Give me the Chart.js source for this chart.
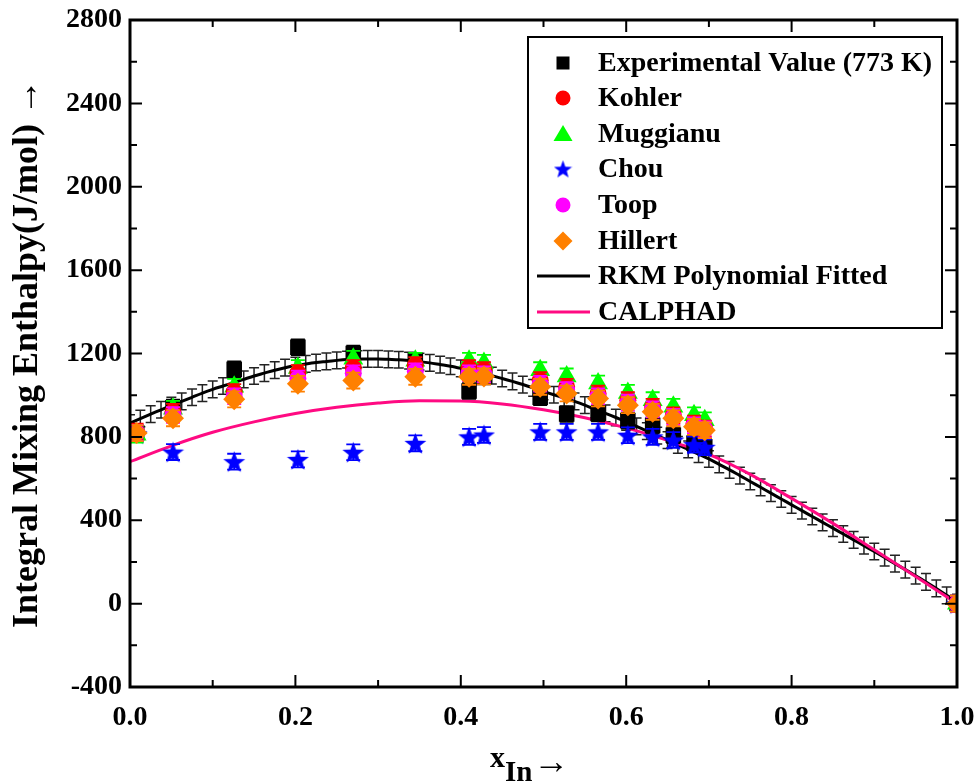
<!DOCTYPE html>
<html><head><meta charset="utf-8">
<script src="https://cdn.jsdelivr.net/npm/chart.js@4.4.0/dist/chart.umd.min.js"></script>
<style>html,body{margin:0;padding:0;background:#fff}canvas{display:block}</style>
</head><body>
<canvas id="c" width="978" height="784"></canvas>
<script>
const FONT = "'Liberation Serif','Times New Roman',serif";

// ---- data ----
const xIn = [0.008, 0.052, 0.126, 0.203, 0.27, 0.345, 0.41, 0.428, 0.496, 0.528, 0.566, 0.602, 0.632, 0.657, 0.682, 0.695, 1.0];
const experimental = [820, 940, 1124, 1230, 1200, 1165, 1020, 1090, 990, 910, 912, 878, 855, 808, 770, 752, 0];
const kohler       = [825, 920, 1015, 1106, 1130, 1144, 1130, 1120, 1072, 1040, 1008, 976, 944, 904, 864, 840, 0];
const muggianu     = [810, 935, 1040, 1130, 1175, 1165, 1165, 1155, 1120, 1090, 1056, 1011, 976, 944, 904, 880, 0];
const chou         = [815, 727, 681, 692, 726, 769, 800, 809, 824, 824, 824, 808, 800, 785, 763, 750, 0];
const toop         = [820, 905, 995, 1080, 1105, 1115, 1105, 1100, 1055, 1025, 995, 964, 932, 896, 856, 836, 0];
const hillert      = [818, 889, 980, 1055, 1070, 1088, 1088, 1090, 1040, 1008, 984, 952, 920, 889, 848, 832, 0];
const errScatter = 38;

const rkmX = [0,0.0125,0.025,0.0375,0.05,0.0625,0.075,0.0875,0.1,0.1125,0.125,0.1375,0.15,0.1625,0.175,0.1875,0.2,0.2125,0.225,0.2375,0.25,0.2625,0.275,0.2875,0.3,0.3125,0.325,0.3375,0.35,0.3625,0.375,0.3875,0.4,0.4125,0.425,0.4375,0.45,0.4625,0.475,0.4875,0.5,0.5125,0.525,0.5375,0.55,0.5625,0.575,0.5875,0.6,0.6125,0.625,0.6375,0.65,0.6625,0.675,0.6875,0.7,0.7125,0.725,0.7375,0.75,0.7625,0.775,0.7875,0.8,0.8125,0.825,0.8375,0.85,0.8625,0.875,0.8875,0.9,0.9125,0.925,0.9375,0.95,0.9625,0.975,0.9875,1.0];
const rkmY = [866,888,909,930,950,970,990,1010,1028,1044,1060,1076,1092,1106,1120,1132,1142,1150,1157,1162,1167,1171,1173,1174,1174,1172,1170,1166,1161,1155,1147,1139,1129,1118,1106,1094,1080,1066,1051,1035,1018,1002,986,970,952,932,913,893,872,850,828,806,784,762,740,717,694,668,642,614,586,558,530,502,474,446,418,390,362,334,306,278,250,221,192,163,134,104,73,40,5];
const errFit = 40;

const calX = [0,0.05,0.1,0.15,0.2,0.25,0.3,0.35,0.4,0.45,0.5,0.55,0.6,0.65,0.7,0.75,0.8,0.85,0.9,0.95,1.0];
const calY = [681,757,822,872,912,942,962,973,972,958,930,892,843,783,716,620,505,385,258,130,0];

const xTickVals = [0,0.2,0.4,0.6,0.8,1.0];
const xTickLabels = ['0.0','0.2','0.4','0.6','0.8','1.0'];
const yTickVals = [-400,0,400,800,1200,1600,2000,2400,2800];
const yTickLabels = ['-400','0','400','800','1200','1600','2000','2400','2800'];

const legendLabels = ['Experimental Value (773 K)','Kohler','Muggianu','Chou','Toop','Hillert','RKM Polynomial Fitted','CALPHAD'];
const colors = {exp:'#000000', kohler:'#ff0000', mug:'#00ff00', chou:'#0000ff', toop:'#ff00ff', hillert:'#ff8000', rkm:'#000000', cal:'#ff0a82'};

// ---- helpers ----
function pts(xs, ys){ return xs.map((x,i)=>({x:x, y:ys[i]})); }
function makeStar(size, color){
  const c=document.createElement('canvas'); c.width=c.height=size;
  const g=c.getContext('2d'); g.fillStyle=color; g.beginPath();
  const R=size/2, r=R*0.42, cx=size/2, cy=size/2+R*0.09;
  for(let i=0;i<10;i++){const a=-Math.PI/2+i*Math.PI/5; const rr=(i%2)?r:R; g.lineTo(cx+rr*Math.cos(a), cy+rr*Math.sin(a));}
  g.closePath(); g.fill(); return c;
}
const starImg = makeStar(23, colors.chou);
const starLegend = makeStar(19, colors.chou);

function scatterDS(label, data, color, style, radius, order){
  return {type:'scatter', label, data:pts(xIn,data), pointStyle:style, pointRadius:radius, pointHoverRadius:radius,
    backgroundColor:color, borderColor:color, borderWidth:0, showLine:false, order, errBar:errScatter, errColor:color, errWidth:1.8, errCap:7};
}

const errPlugin = {
  id:'errbars',
  beforeDatasetDraw(chart, args){
    const ds = chart.data.datasets[args.index];
    if(!ds.errBar) return;
    const {ctx, chartArea:a} = chart; const xs=chart.scales.x, ys=chart.scales.y;
    ctx.save(); ctx.beginPath(); ctx.rect(a.left,a.top,a.right-a.left,a.bottom-a.top); ctx.clip();
    ctx.strokeStyle=ds.errColor; ctx.lineWidth=ds.errWidth;
    const cap=ds.errCap;
    ds.data.forEach(p=>{
      const px=xs.getPixelForValue(p.x), y1=ys.getPixelForValue(p.y+ds.errBar), y2=ys.getPixelForValue(p.y-ds.errBar);
      ctx.beginPath(); ctx.moveTo(px,y1); ctx.lineTo(px,y2);
      ctx.moveTo(px-cap,y1); ctx.lineTo(px+cap,y1); ctx.moveTo(px-cap,y2); ctx.lineTo(px+cap,y2); ctx.stroke();
    });
    ctx.restore();
  }
};

const framePlugin = {
  id:'frame',
  afterDraw(chart){
    const {ctx, chartArea:a} = chart; const xs=chart.scales.x, ys=chart.scales.y;
    ctx.save(); ctx.strokeStyle='#000';
    ctx.lineWidth=2;
    const major=12, minor=7;
    const xm=[], ym=[];
    for(let i=0;i<xTickVals.length-1;i++) xm.push((xTickVals[i]+xTickVals[i+1])/2);
    for(let i=0;i<yTickVals.length-1;i++) ym.push((yTickVals[i]+yTickVals[i+1])/2);
    ctx.beginPath();
    xTickVals.forEach(v=>{const p=xs.getPixelForValue(v); ctx.moveTo(p,a.bottom); ctx.lineTo(p,a.bottom-major); ctx.moveTo(p,a.top); ctx.lineTo(p,a.top+major);});
    xm.forEach(v=>{const p=xs.getPixelForValue(v); ctx.moveTo(p,a.bottom); ctx.lineTo(p,a.bottom-minor); ctx.moveTo(p,a.top); ctx.lineTo(p,a.top+minor);});
    yTickVals.forEach(v=>{const p=ys.getPixelForValue(v); ctx.moveTo(a.left,p); ctx.lineTo(a.left+major,p); ctx.moveTo(a.right,p); ctx.lineTo(a.right-major,p);});
    ym.forEach(v=>{const p=ys.getPixelForValue(v); ctx.moveTo(a.left,p); ctx.lineTo(a.left+minor,p); ctx.moveTo(a.right,p); ctx.lineTo(a.right-minor,p);});
    ctx.stroke();
    ctx.lineWidth=3;
    ctx.strokeRect(a.left,a.top,a.right-a.left,a.bottom-a.top);

    // axis titles
    ctx.fillStyle='#000';
    ctx.save();
    ctx.translate(28, (a.top+a.bottom)/2);
    ctx.rotate(-Math.PI/2);
    ctx.font='bold 36px '+FONT; ctx.textAlign='center'; ctx.textBaseline='middle';
    ctx.fillText('Integral Mixing Enthalpy(J/mol) \u2192', 0, 0);
    ctx.restore();
    ctx.textAlign='left'; ctx.textBaseline='alphabetic';
    ctx.font='bold 30px '+FONT;
    let tx=490; ctx.fillText('x', tx, 767); tx+=ctx.measureText('x').width;
    ctx.font='bold 29px '+FONT; ctx.fillText('In', tx, 781); tx+=ctx.measureText('In').width+1;
    ctx.font='bold 36px '+FONT; ctx.fillText('\u2192', tx, 773);
    ctx.restore();
  }
};

const legendPlugin = {
  id:'customLegend',
  afterDraw(chart){
    const ctx=chart.ctx;
    ctx.save();
    ctx.fillStyle='#fff'; ctx.fillRect(528,37,414,291);
    ctx.strokeStyle='#000'; ctx.lineWidth=2; ctx.strokeRect(528,37,414,291);
    const rows=[63,98,134,169,205,241,276,312];
    const mx=563;
    ctx.fillStyle=colors.exp; ctx.fillRect(mx-6.5,rows[0]-6.5,13,13);
    ctx.fillStyle=colors.kohler; ctx.beginPath(); ctx.arc(mx,rows[1],7.5,0,Math.PI*2); ctx.fill();
    ctx.fillStyle=colors.mug; ctx.beginPath(); ctx.moveTo(mx,rows[2]-9); ctx.lineTo(mx+9.5,rows[2]+7); ctx.lineTo(mx-9.5,rows[2]+7); ctx.closePath(); ctx.fill();
    ctx.drawImage(starLegend, mx-9.5, rows[3]-9.5);
    ctx.fillStyle=colors.toop; ctx.beginPath(); ctx.arc(mx,rows[4],7.5,0,Math.PI*2); ctx.fill();
    ctx.fillStyle=colors.hillert; ctx.beginPath(); ctx.moveTo(mx,rows[5]-9.5); ctx.lineTo(mx+9.5,rows[5]); ctx.lineTo(mx,rows[5]+9.5); ctx.lineTo(mx-9.5,rows[5]); ctx.closePath(); ctx.fill();
    ctx.lineWidth=3;
    ctx.strokeStyle=colors.rkm; ctx.beginPath(); ctx.moveTo(537,rows[6]); ctx.lineTo(590,rows[6]); ctx.stroke();
    ctx.strokeStyle=colors.cal; ctx.beginPath(); ctx.moveTo(537,rows[7]); ctx.lineTo(590,rows[7]); ctx.stroke();
    ctx.fillStyle='#000'; ctx.font='bold 28px '+FONT; ctx.textAlign='left'; ctx.textBaseline='middle';
    legendLabels.forEach((t,i)=>ctx.fillText(t,598,rows[i]+1));
    ctx.restore();
  }
};

const datasets = [
  scatterDS(legendLabels[5], hillert, colors.hillert, 'rectRot', 11, 1),
  scatterDS(legendLabels[4], toop, colors.toop, 'circle', 8.5, 2),
  scatterDS(legendLabels[1], kohler, colors.kohler, 'circle', 8.5, 3),
  scatterDS(legendLabels[2], muggianu, colors.mug, 'triangle', 11.5, 4),
  scatterDS(legendLabels[3], chou, colors.chou, starImg, 11, 5),
  scatterDS(legendLabels[0], experimental, colors.exp, 'rect', 11, 6),
  {type:'line', label:legendLabels[7], data:pts(calX,calY), borderColor:colors.cal, borderWidth:3, pointRadius:0, tension:0.4, cubicInterpolationMode:'monotone', fill:false, order:7},
  {type:'line', label:legendLabels[6], data:pts(rkmX,rkmY), borderColor:colors.rkm, borderWidth:3, pointRadius:0, tension:0.3, fill:false, order:8,
    errBar:errFit, errColor:'#222', errWidth:1.5, errCap:5}
];

new Chart(document.getElementById('c'), {
  type:'scatter',
  data:{datasets},
  options:{
    responsive:false, animation:false, devicePixelRatio:1,
    layout:{padding:{top:20,right:21,left:0,bottom:0}},
    plugins:{legend:{display:false}, tooltip:{enabled:false}},
    scales:{
      x:{type:'linear', min:0, max:1,
        afterBuildTicks:(s)=>{s.ticks=xTickVals.map(v=>({value:v}));},
        ticks:{callback:(v,i)=>xTickLabels[i], font:{family:FONT,size:28,weight:'bold'}, color:'#000', padding:14, maxRotation:0, autoSkip:false},
        grid:{display:false, drawTicks:false}, border:{display:false},
        afterFit:(s)=>{s.height=97; s.paddingLeft=0; s.paddingRight=0;}
      },
      y:{type:'linear', min:-400, max:2800,
        afterBuildTicks:(s)=>{s.ticks=yTickVals.map(v=>({value:v}));},
        ticks:{callback:(v,i)=>yTickLabels[i], font:{family:FONT,size:28,weight:'bold'}, color:'#000', padding:8, autoSkip:false},
        grid:{display:false, drawTicks:false}, border:{display:false},
        afterFit:(s)=>{s.width=130; s.paddingTop=0; s.paddingBottom=0;}
      }
    }
  },
  plugins:[errPlugin, framePlugin, legendPlugin]
});
</script>
</body></html>
